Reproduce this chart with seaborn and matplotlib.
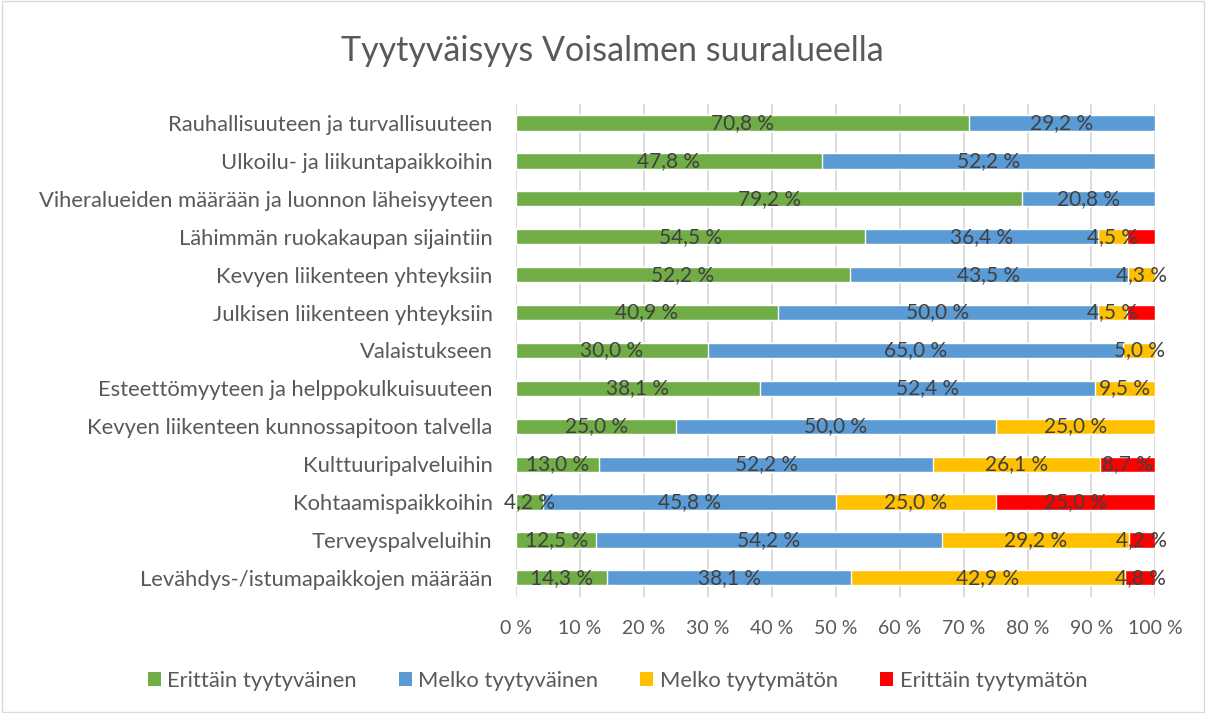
import numpy as np
import pandas as pd
import matplotlib
matplotlib.use("Agg")
import matplotlib.pyplot as plt
from matplotlib.patches import Patch, Rectangle
import seaborn as sns

categories = [
    "Rauhallisuuteen ja turvallisuuteen",
    "Ulkoilu- ja liikuntapaikkoihin",
    "Viheralueiden määrään ja luonnon läheisyyteen",
    "Lähimmän ruokakaupan sijaintiin",
    "Kevyen liikenteen yhteyksiin",
    "Julkisen liikenteen yhteyksiin",
    "Valaistukseen",
    "Esteettömyyteen ja helppokulkuisuuteen",
    "Kevyen liikenteen kunnossapitoon talvella",
    "Kulttuuripalveluihin",
    "Kohtaamispaikkoihin",
    "Terveyspalveluihin",
    "Levähdys-/istumapaikkojen määrään",
]

series_names = ["Erittäin tyytyväinen", "Melko tyytyväinen", "Melko tyytymätön", "Erittäin tyytymätön"]

erittain_tyytyvainen = [70.8, 47.8, 79.2, 54.5, 52.2, 40.9, 30.0, 38.1, 25.0, 13.0, 4.2, 12.5, 14.3]
melko_tyytyvainen = [29.2, 52.2, 20.8, 36.4, 43.5, 50.0, 65.0, 52.4, 50.0, 52.2, 45.8, 54.2, 38.1]
melko_tyytymaton = [0, 0, 0, 4.5, 4.3, 4.5, 5.0, 9.5, 25.0, 26.1, 25.0, 29.2, 42.9]
erittain_tyytymaton = [0, 0, 0, 4.5, 0, 4.5, 0, 0, 0, 8.7, 25.0, 4.2, 4.8]
# red segments whose label is not shown in the original
hidden_red_labels = [3, 5]

colors = ["#70AD47", "#5B9BD5", "#FFC000", "#FF0000"]

sns.set_theme(style="white")
plt.rcParams["font.family"] = ["Lato", "DejaVu Sans"]

vals = np.array([erittain_tyytyvainen, melko_tyytyvainen, melko_tyytymaton, erittain_tyytymaton])
totals = vals.sum(axis=0)
share = vals / totals * 100  # 100 % stacked
cum = np.cumsum(share, axis=0)

fig = plt.figure(figsize=(12.06, 7.13), dpi=100)
ax = fig.add_axes([0.428, 0.163, 0.53, 0.691])

# draw cumulative bars back to front so the stack shows up
for i in range(3, -1, -1):
    df = pd.DataFrame({"kategoria": categories, "arvo": cum[i]})
    sns.barplot(data=df, x="arvo", y="kategoria", orient="h", color=colors[i],
                width=0.4, saturation=1, ax=ax, zorder=2)

# data labels
for i in range(4):
    for j in range(len(categories)):
        v = vals[i, j]
        if v <= 0:
            continue
        if i == 3 and j in hidden_red_labels:
            continue
        center = cum[i, j] - share[i, j] / 2
        ax.text(center, j, f"{v:.1f} %".replace(".", ","), ha="center", va="center",
                fontsize=15, color="#404040", zorder=5)

ax.set_xlim(0, 100)
ax.set_ylim(len(categories) - 0.5, -0.5)
ax.set_xticks(range(0, 101, 10))
ax.set_xticklabels([f"{t} %" for t in range(0, 101, 10)])
ax.set_xlabel("")
ax.set_ylabel("")
ax.tick_params(axis="x", length=0, pad=17, labelsize=14, labelcolor="#595959")
ax.tick_params(axis="y", length=0, pad=17, labelsize=15.8, labelcolor="#595959")
ax.xaxis.grid(True, color="#d9d9d9", lw=1.3)
ax.yaxis.grid(False)
ax.set_axisbelow(True)
for s in ax.spines.values():
    s.set_visible(False)

fig.text(0.508, 0.928, "Tyytyväisyys Voisalmen suuralueella", ha="center", va="center",
         fontsize=24.5, color="#595959")

handles = [Patch(facecolor=c, edgecolor="none") for c in colors]
fig.legend(handles, series_names, loc="center", bbox_to_anchor=(0.512, 0.045), ncol=4,
           frameon=False, fontsize=15.8, labelcolor="#595959", handlelength=0.6,
           handleheight=0.6, handletextpad=0.3, columnspacing=1.9)

fig.patches.append(Rectangle((0.002, 0.002), 0.996, 0.996, transform=fig.transFigure,
                             fill=False, edgecolor="#d9d9d9", lw=1))

fig.savefig("out.png", dpi=100)
